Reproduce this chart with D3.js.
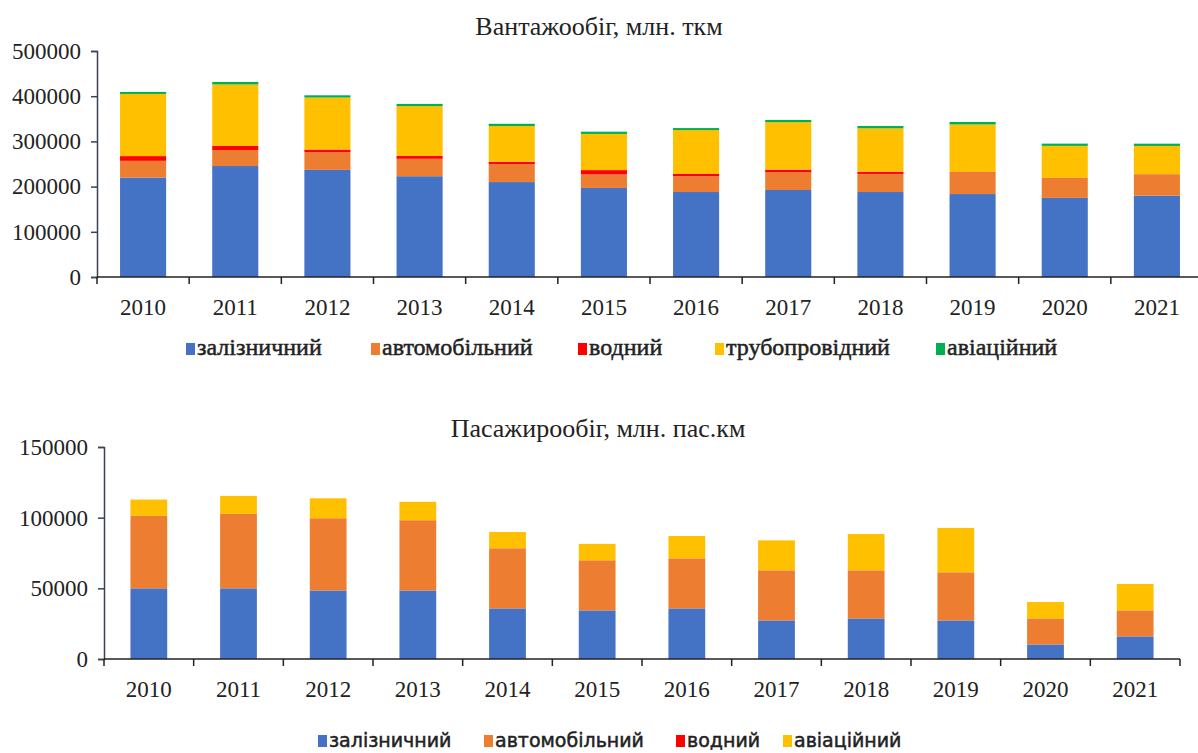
<!DOCTYPE html>
<html>
<head>
<meta charset="utf-8">
<script src="https://cdn.jsdelivr.net/npm/d3@7"></script>
<style>
  body { margin: 0; background: #fff; }
  svg { display: block; }
</style>
</head>
<body>
<div id="chart"></div>
<script>
const years = ["2010","2011","2012","2013","2014","2015","2016","2017","2018","2019","2020","2021"];

// Вантажообіг, млн. ткм
const freightKeys = ["залізничний", "автомобільний", "водний", "трубопровідний", "авіаційний"];
const freightRail  = [220000, 245500, 237000, 223000, 210000, 197000, 188000, 192500, 188000, 183500, 175000, 180000];
const freightAuto  = [37000, 35500, 39000, 38500, 40000, 30000, 35000, 39000, 40000, 48000, 44000, 47000];
const freightWater = [10500, 9000, 6000, 6500, 5000, 9500, 5000, 6000, 5000, 1000, 600, 500];
const freightPipe  = [137500, 136000, 115000, 110000, 79000, 80000, 97000, 105000, 96000, 105000, 70500, 62500];
const freightAir   = [4500, 5500, 5000, 5000, 5000, 5000, 4500, 5000, 5000, 5500, 5000, 5000];
const freightTicks = [0, 100000, 200000, 300000, 400000, 500000];

// Пасажирообіг, млн. пас.км
const passKeys = ["залізничний", "автомобільний", "водний", "авіаційний"];
const passRail  = [50000, 50000, 48500, 48500, 35800, 34400, 35800, 27300, 28700, 27300, 10300, 16000];
const passAuto  = [51200, 52600, 51000, 49600, 42500, 35400, 35400, 35400, 34000, 34000, 18400, 18400];
const passWater = [100, 100, 100, 100, 50, 50, 50, 50, 50, 50, 20, 20];
const passAir   = [11500, 12700, 14100, 13000, 11500, 11600, 15800, 21200, 25700, 31400, 11600, 18700];
const passTicks = [0, 50000, 100000, 150000];

const freightColors = ["#4472C4", "#ED7D31", "#FF0000", "#FFC000", "#00B050"];
const passColors = ["#4472C4", "#ED7D31", "#FF0000", "#FFC000"];

const SERIF = '"Liberation Serif"';
const SANS = '"DejaVu Sans"';

const W = 1198, H = 753;
const svg = d3.select("#chart").append("svg").attr("width", W).attr("height", H);

function drawChart(cfg) {
  const rows = years.map((y, i) => {
    const r = { year: y };
    cfg.keys.forEach((k, j) => r[k] = cfg.series[j][i]);
    return r;
  });
  const stack = d3.stack().keys(cfg.keys)(rows);
  const color = d3.scaleOrdinal().domain(cfg.keys).range(cfg.colors);

  const x = d3.scaleBand().domain(years).range(cfg.xRange).paddingInner(cfg.pad).paddingOuter(cfg.pad / 2);
  const xt = d3.scaleBand().domain(years).range(cfg.xRange);
  const y = d3.scaleLinear().domain([0, cfg.max]).range(cfg.yRange);

  const g = svg.append("g");

  g.selectAll("g.layer")
    .data(stack)
    .join("g")
    .attr("class", "layer")
    .attr("fill", d => color(d.key))
    .selectAll("rect")
    .data(d => d)
    .join("rect")
    .attr("x", d => x(d.data.year))
    .attr("width", x.bandwidth())
    .attr("y", d => y(d[1]))
    .attr("height", d => Math.max(0, y(d[0]) - y(d[1])));

  // y axis
  const ya = g.append("g")
    .attr("transform", `translate(${cfg.xRange[0]},0)`)
    .call(d3.axisLeft(y).tickValues(cfg.ticks).tickFormat(d3.format("d")).tickSize(6).tickPadding(10));
  ya.selectAll("text")
    .style("font-family", SERIF).style("font-size", cfg.tickSize)
    .attr("fill", "#222");
  ya.select(".domain").attr("stroke", "#3a4150").attr("stroke-width", 1.5);
  ya.selectAll(".tick line").attr("stroke", "#3a4150").attr("stroke-width", 1.5);

  // x axis with ticks between categories
  const xa = g.append("g").attr("transform", `translate(0,${cfg.yRange[0]})`);
  xa.append("line")
    .attr("x1", cfg.xRange[0]).attr("x2", cfg.xRange[1])
    .attr("stroke", "#222").attr("stroke-width", 1.5);
  xa.selectAll("line.tk")
    .data(years.concat(["end"]))
    .join("line")
    .attr("class", "tk")
    .attr("x1", (d, i) => cfg.xRange[0] + i * xt.step())
    .attr("x2", (d, i) => cfg.xRange[0] + i * xt.step())
    .attr("y1", 0).attr("y2", 7)
    .attr("stroke", "#222").attr("stroke-width", 1.5);
  xa.selectAll("text")
    .data(years)
    .join("text")
    .attr("x", d => xt(d) + xt.bandwidth() / 2)
    .attr("y", 38)
    .attr("text-anchor", "middle")
    .style("font-family", SERIF).style("font-size", cfg.tickSize)
    .attr("fill", "#222")
    .text(d => d);

  // title
  g.append("text")
    .attr("x", cfg.titleX).attr("y", cfg.titleY)
    .attr("text-anchor", "middle")
    .style("font-family", SERIF).style("font-size", "26px")
    .attr("fill", "#222")
    .text(cfg.title);

  // legend
  const items = g.append("g").selectAll("g")
    .data(cfg.keys)
    .join("g")
    .attr("transform", (d, i) => `translate(${cfg.legendX[i]},${cfg.legendY})`);
  items.append("rect")
    .attr("x", 0).attr("y", -6).attr("width", 9).attr("height", 12)
    .attr("fill", d => color(d));
  items.append("text")
    .attr("x", 11).attr("y", 6)
    .style("font-family", cfg.legendFont)
    .style("font-size", cfg.legendSize)
    .attr("fill", "#222")
    .attr("stroke", "#222")
    .attr("stroke-width", 0.5)
    .text(d => d);
}

drawChart({
  keys: freightKeys,
  series: [freightRail, freightAuto, freightWater, freightPipe, freightAir],
  colors: freightColors,
  ticks: freightTicks, max: 500000, tickSize: "23px",
  xRange: [97, 1203], yRange: [277, 51], pad: 0.5,
  title: "Вантажообіг, млн. ткм", titleX: 599, titleY: 35,
  legendX: [186, 371, 578, 715, 936], legendY: 349,
  legendFont: SERIF, legendSize: "24px"
});

drawChart({
  keys: passKeys,
  series: [passRail, passAuto, passWater, passAir],
  colors: passColors,
  ticks: passTicks, max: 150000, tickSize: "23px",
  xRange: [104, 1180], yRange: [659, 447], pad: 0.59,
  title: "Пасажирообіг, млн. пас.км", titleX: 598, titleY: 437,
  legendX: [318, 484, 676, 783], legendY: 741,
  legendFont: SANS, legendSize: "19px"
});
</script>
</body>
</html>
